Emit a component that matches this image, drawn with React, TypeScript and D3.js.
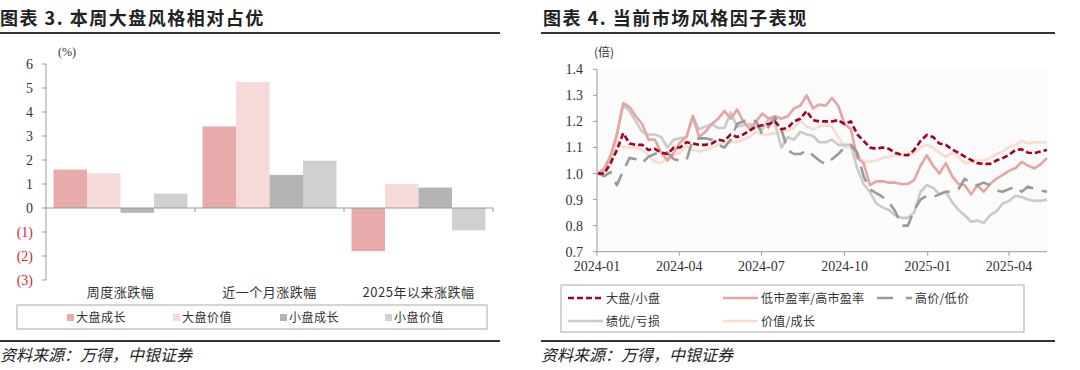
import React from "react";
import * as d3 from "d3";

// ---------- Left chart data ----------
const barCategories = ["周度涨跌幅", "近一个月涨跌幅", "2025年以来涨跌幅"];
const barSeriesNames = ["大盘成长", "大盘价值", "小盘成长", "小盘价值"];
const bigGrowth = [1.6, 3.4, -1.8];
const bigValue = [1.45, 5.25, 1.0];
const smallGrowth = [-0.2, 1.38, 0.85];
const smallValue = [0.6, 1.97, -0.93];
const barTicks = [6, 5, 4, 3, 2, 1, 0, -1, -2, -3];
const barColors = ["#E8ABAB", "#F6DADA", "#B4B4B4", "#D0D0D0"];

// ---------- Right chart data ----------
const dates = [
  "2024-01-02", "2024-01-09", "2024-01-16", "2024-01-23", "2024-01-30", "2024-02-06", "2024-02-13", "2024-02-20",
  "2024-02-27", "2024-03-05", "2024-03-12", "2024-03-19", "2024-03-26", "2024-04-02", "2024-04-09", "2024-04-16",
  "2024-04-23", "2024-04-30", "2024-05-07", "2024-05-14", "2024-05-21", "2024-05-28", "2024-06-04", "2024-06-11",
  "2024-06-18", "2024-06-25", "2024-07-02", "2024-07-09", "2024-07-16", "2024-07-23", "2024-07-30", "2024-08-06",
  "2024-08-13", "2024-08-20", "2024-08-27", "2024-09-03", "2024-09-10", "2024-09-17", "2024-09-24", "2024-10-01",
  "2024-10-08", "2024-10-15", "2024-10-22", "2024-10-29", "2024-11-05", "2024-11-12", "2024-11-19", "2024-11-26",
  "2024-12-03", "2024-12-10", "2024-12-17", "2024-12-24", "2024-12-31", "2025-01-07", "2025-01-14", "2025-01-21",
  "2025-01-28", "2025-02-04", "2025-02-11", "2025-02-18", "2025-02-25", "2025-03-04", "2025-03-11", "2025-03-18",
  "2025-03-25", "2025-04-01", "2025-04-08", "2025-04-15", "2025-04-22", "2025-04-29", "2025-05-06", "2025-05-13",
];
const bigSmall = [
  1.0, 1.0, 1.04, 1.09, 1.155, 1.115, 1.11, 1.11, 1.09, 1.095, 1.08, 1.075, 1.1, 1.1, 1.12, 1.115,
  1.11, 1.11, 1.115, 1.13, 1.125, 1.15, 1.14, 1.15, 1.165, 1.18, 1.185, 1.19, 1.2, 1.17, 1.175, 1.2,
  1.21, 1.24, 1.205, 1.2, 1.2, 1.2, 1.205, 1.19, 1.2, 1.15, 1.125, 1.1, 1.095, 1.1, 1.095, 1.08,
  1.072, 1.07, 1.09, 1.125, 1.148, 1.14, 1.115, 1.11, 1.092, 1.08, 1.065, 1.052, 1.04, 1.037, 1.037, 1.05,
  1.059, 1.072, 1.09, 1.093, 1.08, 1.078, 1.085, 1.09,
];
const lowPE = [
  1.0, 1.02, 1.07, 1.15, 1.27, 1.255, 1.22, 1.19, 1.13, 1.13, 1.08, 1.05, 1.08, 1.12, 1.14, 1.22,
  1.14, 1.16, 1.19, 1.21, 1.24, 1.21, 1.245, 1.2, 1.17, 1.2, 1.23, 1.21, 1.22, 1.21, 1.22, 1.25,
  1.26, 1.3, 1.25, 1.265, 1.26, 1.29, 1.26, 1.19, 1.17, 1.06, 1.04, 0.955, 0.97, 0.97, 0.965, 0.965,
  0.96, 0.96, 0.975, 1.03, 1.07, 1.03, 1.0, 1.04, 0.99, 0.96, 0.955, 0.92, 0.955, 0.93, 0.96, 0.98,
  0.995, 1.01, 1.02, 1.045, 1.03, 1.02, 1.035, 1.06,
];
const highLowPrice = [
  1.0, 0.99, 1.005, 0.955, 1.01, 1.06, 1.055, 1.04, 1.065, 1.075, 1.085, 1.08, 1.055, 1.05, 1.05, 1.13,
  1.135, 1.135, 1.13, 1.11, 1.1, 1.13, 1.19, 1.2, 1.21, 1.2, 1.15, 1.18, 1.215, 1.17, 1.09, 1.075,
  1.075, 1.09, 1.07, 1.05, 1.035, 1.055, 1.075, 1.1, 1.11, 1.08, 0.99, 0.94, 0.925, 0.91, 0.89, 0.855,
  0.8, 0.8, 0.86, 0.9, 0.915, 0.91, 0.92, 0.93, 0.93, 0.94, 0.98, 0.96, 0.955, 0.965, 0.955, 0.935,
  0.93, 0.94, 0.95, 0.93, 0.95, 0.94, 0.935, 0.93,
];
const goodLoss = [
  1.0, 1.01, 1.06, 1.15, 1.265, 1.24, 1.2, 1.16, 1.15, 1.15, 1.14, 1.1, 1.13, 1.135, 1.14, 1.22,
  1.17, 1.18, 1.19, 1.175, 1.175, 1.235, 1.18, 1.185, 1.19, 1.18, 1.17, 1.21, 1.19, 1.1, 1.14, 1.13,
  1.16, 1.15, 1.145, 1.12, 1.12, 1.13, 1.11, 1.11, 1.11, 1.02, 0.96, 0.93, 0.885, 0.87, 0.86, 0.84,
  0.83, 0.83, 0.85, 0.93, 0.955, 0.945, 0.92, 0.93, 0.89, 0.86, 0.84, 0.815, 0.82, 0.81, 0.84, 0.855,
  0.885, 0.895, 0.915, 0.91, 0.9, 0.895, 0.895, 0.9,
];
const valueGrowth = [
  1.0, 1.0, 1.03, 1.13, 1.1, 1.1, 1.1, 1.09, 1.07, 1.045, 1.04, 1.06, 1.07, 1.08, 1.105, 1.09,
  1.085, 1.09, 1.1, 1.11, 1.115, 1.12, 1.12, 1.13, 1.14, 1.16, 1.15, 1.15, 1.155, 1.16, 1.165, 1.175,
  1.205, 1.18, 1.17, 1.18, 1.185, 1.18, 1.14, 1.1, 1.1, 1.07, 1.045, 1.045, 1.05, 1.06, 1.065, 1.07,
  1.07, 1.075, 1.08, 1.1, 1.11, 1.1, 1.08, 1.065, 1.08, 1.065, 1.04, 1.045, 1.05, 1.05, 1.06, 1.075,
  1.085, 1.1, 1.11, 1.125, 1.115, 1.12, 1.12, 1.12,
];
const lineTicks = [0.7, 0.8, 0.9, 1.0, 1.1, 1.2, 1.3, 1.4];
const xTickDates = ["2024-01-01", "2024-04-01", "2024-07-01", "2024-10-01", "2025-01-01", "2025-04-01"];
const xTickLabels = ["2024-01", "2024-04", "2024-07", "2024-10", "2025-01", "2025-04"];

const lineSeries = [
  { name: "价值/成长", values: valueGrowth, color: "#F9DCCB", dash: "none" },
  { name: "绩优/亏损", values: goodLoss, color: "#CACACA", dash: "none" },
  { name: "低市盈率/高市盈率", values: lowPE, color: "#E8A3A3", dash: "none" },
  { name: "高价/低价", values: highLowPrice, color: "#9A9A9A", dash: "16,9" },
  { name: "大盘/小盘", values: bigSmall, color: "#A6001F", dash: "6,3" },
];

const SERIF = "'Liberation Serif', 'DejaVu Serif', serif";
const CJK = "'Noto Sans CJK SC', sans-serif";

export default function App() {
  // Left chart scales
  const yL = d3.scaleLinear().domain([-3, 6]).range([280, 64]);
  const xL = d3.scaleBand<string>().domain(barCategories).range([46, 493]);
  const xIn = d3
    .scaleBand<string>()
    .domain(barSeriesNames)
    .range([0, xL.bandwidth()])
    .paddingInner(0)
    .paddingOuter(0.224);
  const barData = [bigGrowth, bigValue, smallGrowth, smallValue];

  // Right chart scales
  const parse = d3.timeParse("%Y-%m-%d")!;
  const parsedDates = dates.map((d) => parse(d) as Date);
  const xR = d3
    .scaleTime()
    .domain([parse("2024-01-01") as Date, parsedDates[parsedDates.length - 1]])
    .range([597, 1047]);
  const yR = d3.scaleLinear().domain([0.7, 1.4]).range([251.7, 69.3]);
  const lineGen = (vals: number[]) =>
    d3
      .line<number>()
      .x((_, i) => xR(parsedDates[i]))
      .y((v) => yR(v))(vals) || "";

  const axisColor = "#9A9A9A";
  const textColor = "#333";

  const leftLegendX = [67, 173, 280, 385];
  const rightLegend = [
    { name: "大盘/小盘", x: 568, y: 298, color: "#A6001F", dash: "6,3" },
    { name: "低市盈率/高市盈率", x: 723, y: 298, color: "#E8A3A3", dash: "none" },
    { name: "高价/低价", x: 877, y: 298, color: "#9A9A9A", dash: "16,13" },
    { name: "绩优/亏损", x: 568, y: 321, color: "#CACACA", dash: "none" },
    { name: "价值/成长", x: 723, y: 321, color: "#F9DCCB", dash: "none" },
  ];

  return (
    <svg
      width={1080}
      height={370}
      style={{ position: "absolute", left: 0, top: 0, background: "#fff" }}
    >
      {/* ===== Titles ===== */}
      <text x={0} y={25} fontFamily={CJK} fontWeight={700} fontSize={18} letterSpacing={1.5} fill="#222">
        图表 3. 本周大盘风格相对占优
      </text>
      <text x={543} y={25} fontFamily={CJK} fontWeight={700} fontSize={18} letterSpacing={1.5} fill="#222">
        图表 4. 当前市场风格因子表现
      </text>
      <line x1={0} x2={500} y1={33} y2={33} stroke="#333" strokeWidth={2} />
      <line x1={541} x2={1055} y1={33} y2={33} stroke="#333" strokeWidth={2} />
      <line x1={0} x2={500} y1={341} y2={341} stroke="#333" strokeWidth={2} />
      <line x1={541} x2={1055} y1={341} y2={341} stroke="#333" strokeWidth={2} />
      <text x={0} y={361} fontFamily={CJK} fontStyle="italic" fontSize={16} fill="#222" transform="skewX(0)">
        资料来源：万得，中银证券
      </text>
      <text x={541} y={361} fontFamily={CJK} fontStyle="italic" fontSize={16} fill="#222">
        资料来源：万得，中银证券
      </text>

      {/* ===== Left chart ===== */}
      <text x={67} y={56} textAnchor="middle" fontFamily={SERIF} fontSize={12} fill={textColor}>
        (%)
      </text>
      {barData.map((vals, si) =>
        vals.map((v, ci) => {
          const x = (xL(barCategories[ci]) as number) + (xIn(barSeriesNames[si]) as number);
          const y0 = yL(0);
          const y1 = yL(v);
          return (
            <rect
              key={`b${si}-${ci}`}
              x={x}
              width={xIn.bandwidth()}
              y={Math.min(y0, y1)}
              height={Math.abs(y1 - y0)}
              fill={barColors[si]}
            />
          );
        })
      )}
      <line x1={46} x2={46} y1={yL(6)} y2={yL(-3)} stroke={axisColor} strokeWidth={1} />
      {barTicks.map((t) => (
        <g key={`lt${t}`}>
          <line x1={42} x2={46} y1={yL(t)} y2={yL(t)} stroke={axisColor} />
          <text
            x={33}
            y={yL(t) + 5}
            textAnchor="end"
            fontFamily={SERIF}
            fontSize={14}
            fill={t < 0 ? "#E0202E" : textColor}
          >
            {t < 0 ? `(${-t})` : `${t}`}
          </text>
        </g>
      ))}
      <line x1={46} x2={493} y1={yL(0)} y2={yL(0)} stroke={axisColor} strokeWidth={1.2} />
      {barCategories.map((c) => {
        const x1 = (xL(c) as number) + xL.bandwidth();
        return <line key={`ct${c}`} x1={x1} x2={x1} y1={yL(0)} y2={yL(0) + 4} stroke={axisColor} />;
      })}
      {barCategories.map((c) => (
        <text
          key={`cl${c}`}
          x={(xL(c) as number) + xL.bandwidth() / 2}
          y={297}
          textAnchor="middle"
          fontFamily={CJK}
          fontSize={13}
          letterSpacing={0.5}
          fill={textColor}
        >
          {c}
        </text>
      ))}
      <rect x={17} y={305} width={470} height={24} fill="none" stroke="#AAA" strokeWidth={1} />
      {barSeriesNames.map((n, i) => (
        <g key={`ll${n}`}>
          <rect x={leftLegendX[i]} y={314} width={7} height={7} fill={barColors[i]} />
          <text x={leftLegendX[i] + 9} y={322} fontFamily={CJK} fontSize={12} letterSpacing={0.5} fill={textColor}>
            {n}
          </text>
        </g>
      ))}

      {/* ===== Right chart ===== */}
      <rect x={597} y={69.3} width={450} height={182.4} fill="#FBFBFB" />
      <text x={594} y={57} fontFamily={CJK} fontSize={12} fill={textColor}>
        (倍)
      </text>
      <line x1={597} x2={597} y1={yR(1.4)} y2={yR(0.7)} stroke={axisColor} />
      {lineTicks.map((t) => (
        <g key={`rt${t}`}>
          <line x1={593} x2={597} y1={yR(t)} y2={yR(t)} stroke={axisColor} />
          <text x={583} y={yR(t) + 5} textAnchor="end" fontFamily={SERIF} fontSize={14} fill={textColor}>
            {t.toFixed(1)}
          </text>
        </g>
      ))}
      <line x1={597} x2={1047} y1={yR(0.7)} y2={yR(0.7)} stroke={axisColor} />
      {xTickDates.map((d, i) => {
        const x = xR(parse(d) as Date);
        return (
          <g key={`xt${d}`}>
            <line x1={x} x2={x} y1={yR(0.7)} y2={yR(0.7) + 4} stroke={axisColor} />
            <text x={x} y={271} textAnchor="middle" fontFamily={SERIF} fontSize={14} fill={textColor}>
              {xTickLabels[i]}
            </text>
          </g>
        );
      })}
      {lineSeries.map((s) => (
        <path
          key={`ls${s.name}`}
          d={lineGen(s.values)}
          fill="none"
          stroke={s.color}
          strokeWidth={2.6}
          strokeDasharray={s.dash === "none" ? undefined : s.dash}
          strokeLinejoin="round"
        />
      ))}
      <rect x={561} y={285} width={463} height={47} fill="none" stroke="#AAA" strokeWidth={1} />
      {rightLegend.map((l) => (
        <g key={`rl${l.name}`}>
          <line
            x1={l.x}
            x2={l.x + 35}
            y1={l.y}
            y2={l.y}
            stroke={l.color}
            strokeWidth={2.6}
            strokeDasharray={l.dash === "none" ? undefined : l.dash}
          />
          <text x={l.x + 38} y={l.y + 4.5} fontFamily={CJK} fontSize={12} letterSpacing={0.3} fill={textColor}>
            {l.name}
          </text>
        </g>
      ))}
    </svg>
  );
}
